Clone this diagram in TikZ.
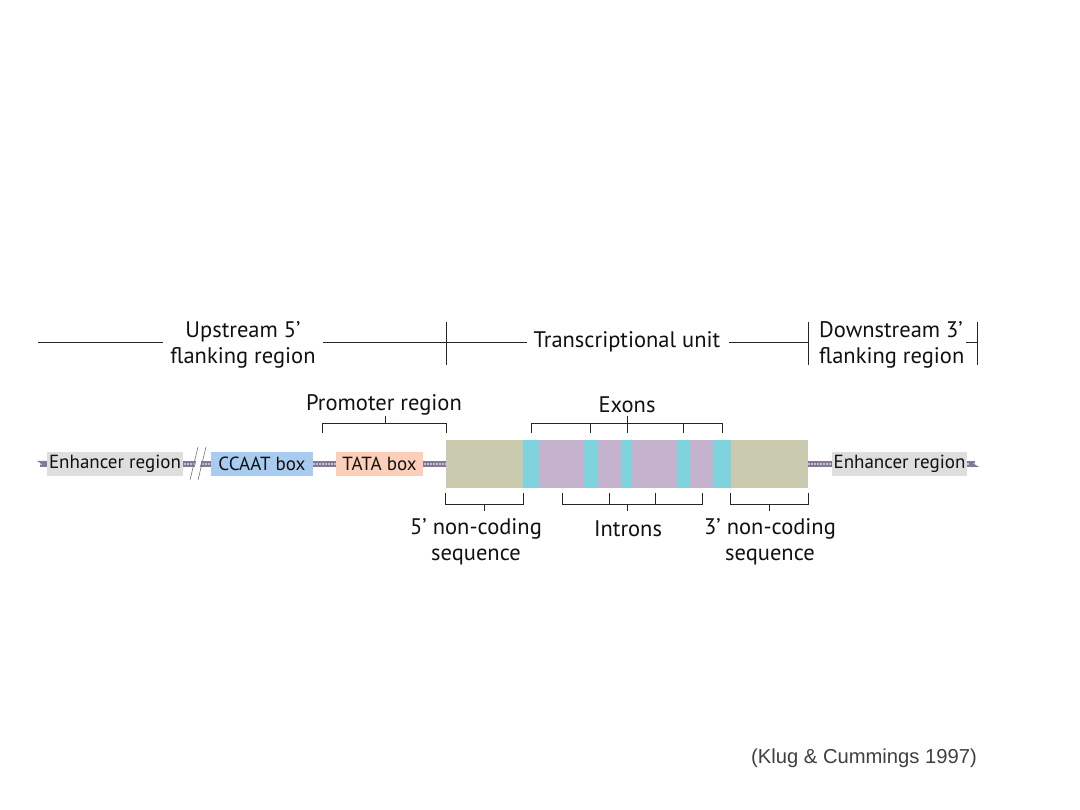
\documentclass[tikz,border=0pt]{standalone}
\usepackage{fontspec}
\setmainfont{PT Sans}
\newfontfamily\citefont{Liberation Sans}
\definecolor{dnacol}{HTML}{857896}
\definecolor{dnalite}{HTML}{C4BCD2}
\definecolor{enhcol}{HTML}{DEDEDE}
\definecolor{ccaatcol}{HTML}{A9CBEF}
\definecolor{tatacol}{HTML}{FBCFB8}
\definecolor{ncodcol}{HTML}{C9CAAE}
\definecolor{exoncol}{HTML}{7FD3DC}
\definecolor{introncol}{HTML}{C4B2CC}
\definecolor{txtcol}{HTML}{111111}
\begin{document}
\begin{tikzpicture}[x=1pt,y=-1pt,
  lbl/.style={font=\fontsize{22.5}{26}\selectfont, text=txtcol, inner sep=0pt, align=center},
  boxlbl/.style={font=\fontsize{19}{22}\selectfont, text=txtcol, inner sep=0pt},
  rule/.style={draw=black!85, line width=0.9pt},
  dnaline/.style={draw=dnacol, line width=6pt},
  dnadots/.style={draw=dnalite, line width=2pt, dash pattern=on 1.5pt off 1.5pt},
  seg/.style={draw=none, inner sep=0pt, outer sep=0pt, minimum height=24pt},
  genepart/.style={draw=none, inner sep=0pt, outer sep=0pt, minimum height=48pt}
]
\useasboundingbox[fill=white] (0,0) rectangle (1080,810);

% ---------- DNA line ----------
\draw[dnaline] (40,464) -- (446,464);
\draw[dnadots] (40,464) -- (446,464);
\draw[dnaline] (808,464) -- (975,464);
\draw[dnadots] (808,464) -- (975,464);
\fill[dnacol] (37,461) -- (47,461) -- (47,467) -- cycle;
\fill[dnacol] (979,467) -- (969,461) -- (969,467) -- cycle;

% break (double slash)
\fill[white] (192,479) -- (199,449) -- (204,449) -- (197,479) -- cycle;
\draw[black!55, line width=0.6pt] (190,480) -- (198,447);
\draw[black!55, line width=0.6pt] (198,480) -- (206,447);

% ---------- boxes on the line ----------
\node[seg, fill=enhcol, minimum width=136pt, anchor=west] (enhL) at (47,464) {};
\node[boxlbl] at (enhL.center) {Enhancer region};
\node[seg, fill=ccaatcol, minimum width=102pt, anchor=west] (ccaat) at (211,464) {};
\node[boxlbl] at (ccaat.center) {CCAAT box};
\node[seg, fill=tatacol, minimum width=87pt, anchor=west] (tata) at (336,464) {};
\node[boxlbl] at (tata.center) {TATA box};
\node[seg, fill=enhcol, minimum width=135pt, anchor=west] (enhR) at (832,464) {};
\node[boxlbl] at (enhR.center) {Enhancer region};

% ---------- gene ----------
\node[genepart, fill=ncodcol, minimum width=77pt, anchor=west] (nc5) at (446,464) {};
\node[genepart, fill=exoncol, minimum width=16pt, anchor=west] (ex1) at (523,464) {};
\node[genepart, fill=introncol, minimum width=45pt, anchor=west] (in1) at (539,464) {};
\node[genepart, fill=exoncol, minimum width=14pt, anchor=west] (ex2) at (584,464) {};
\node[genepart, fill=introncol, minimum width=23pt, anchor=west] (in2) at (598,464) {};
\node[genepart, fill=exoncol, minimum width=11pt, anchor=west] (ex3) at (621,464) {};
\node[genepart, fill=introncol, minimum width=45pt, anchor=west] (in3) at (632,464) {};
\node[genepart, fill=exoncol, minimum width=13pt, anchor=west] (ex4) at (677,464) {};
\node[genepart, fill=introncol, minimum width=23pt, anchor=west] (in4) at (690,464) {};
\node[genepart, fill=exoncol, minimum width=18pt, anchor=west] (ex5) at (713,464) {};
\node[genepart, fill=ncodcol, minimum width=77pt, anchor=west] (nc3) at (731,464) {};

% ---------- top row ----------
\node[lbl] (up) at (243,345) {Upstream 5’\\flanking region};
\node[lbl] (tu) at (627,342) {Transcriptional unit};
\node[lbl, align=left, anchor=west] (down) at (819,345) {Downstream 3’\\flanking region};
\coordinate (a0) at (38,342);
\coordinate (a1) at (163,342);
\coordinate (b0) at (323,342);
\coordinate (b1) at (527,342);
\coordinate (c0) at (729,342);
\coordinate (c1) at (808,342);
\coordinate (d0) at (966,342);
\coordinate (d1) at (977,342);
\draw[rule] (a0) -- (a1);
\draw[rule] (b0) -- (b1);
\draw[rule] (c0) -- (c1);
\draw[rule] (d0) -- (d1);
\draw[rule] (446,322) -- (446,365);
\draw[rule] (c1) ++(0,-20) -- ++(0,43);
\draw[rule] (d1) ++(0,-20) -- ++(0,43);

% ---------- upper brackets ----------
\node[lbl] (prom) at (384,405) {Promoter region};
\draw[rule] (322,433) -- (322,423) -- (446,423) -- (446,433);
\draw[rule] (385,423) -- (385,416);

\node[lbl] (exons) at (627,405) {Exons};
\draw[rule] (531,433) -- (531,423) -- (722,423) -- (722,433);
\draw[rule] (590,423) -- (590,433);
\draw[rule] (627,416) -- (627,433);
\draw[rule] (683,423) -- (683,433);

% ---------- lower brackets ----------
\draw[rule] (445,493) -- (445,504) -- (523,504) -- (523,493);
\draw[rule] (484,504) -- (484,511);
\draw[rule] (562,493) -- (562,504) -- (702,504) -- (702,493);
\draw[rule] (609,493) -- (609,504);
\draw[rule] (655,493) -- (655,504);
\draw[rule] (627,504) -- (627,511);
\draw[rule] (730,493) -- (730,504) -- (808,504) -- (808,493);
\draw[rule] (769,504) -- (769,511);

\node[lbl] (nc5l) at (476,542) {5’ non-coding\\sequence};
\node[lbl] (intr) at (628,529) {Introns};
\node[lbl] (nc3l) at (770,542) {3’ non-coding\\sequence};

% ---------- citation ----------
\node[font=\citefont\fontsize{20.2}{22}\selectfont, text=black!75, inner sep=0pt] (cite) at (864,758) {(Klug \& Cummings 1997)};
\end{tikzpicture}
\end{document}
